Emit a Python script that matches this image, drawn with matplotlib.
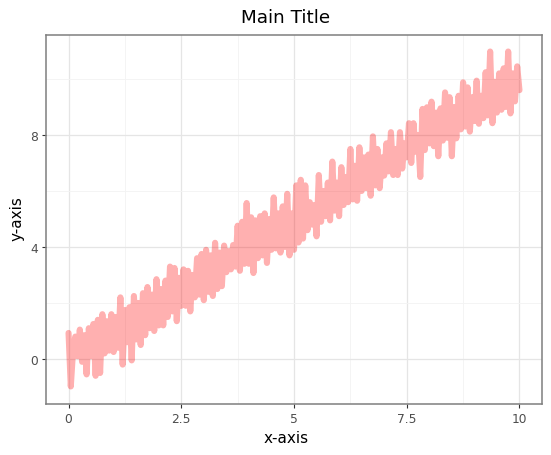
import numpy as np
import matplotlib
matplotlib.use('Agg')
import matplotlib.pyplot as plt

plt.rcParams['path.simplify'] = False

# values: the two swings of the noisy line
y_low = [0.93, 0.3, 0.1, -0.1, -0.55, 0.1, -0.6, -0.5, 0.2, 0.3,
         0.25, 0.4, -0.2, 0.6, -0.05, 0.7, 0.5, 0.85, 1.1, 1.0,
         1.2, 1.2, 1.5, 1.7, 1.35, 1.9, 1.9, 1.7, 2.2, 2.3,
         2.1, 2.4, 2.25, 2.5, 2.6, 3.1, 3.2, 3.3, 3.15, 3.4,
         3.4, 3.07, 3.6, 3.7, 3.43, 3.9, 3.95, 3.8, 4.0, 3.7,
         3.9, 4.16, 4.3, 4.6, 4.8, 4.38, 4.9, 5.1, 4.95, 5.3,
         5.1, 5.5, 5.6, 5.7, 5.65, 6.0, 6.1, 5.83, 6.2, 6.1,
         6.55, 6.7, 6.57, 6.57, 6.8, 7.2, 7.0, 7.4, 6.5, 7.46,
         7.7, 7.6, 7.24, 7.8, 7.9, 7.24, 7.88, 8.2, 8.3, 8.12,
         8.5, 8.4, 8.6, 8.7, 8.42, 8.8, 8.9, 9.0, 8.77, 9.2, 9.6]
y_high = [-0.98, 0.8, 1.05, 0.85, 1.1, 1.25, 1.4, 1.6, 1.35, 1.6,
          1.5, 2.2, 1.75, 1.85, 2.25, 2.0, 2.35, 2.57, 2.3, 2.85,
          2.5, 2.8, 3.3, 3.25, 2.9, 3.2, 3.15, 3.0, 3.6, 3.75,
          3.9, 3.7, 4.15, 3.8, 4.05, 3.85, 4.07, 4.76, 4.9, 5.57,
          5.06, 4.95, 5.1, 5.2, 5.0, 5.77, 5.2, 5.45, 5.9, 5.2,
          6.2, 6.4, 6.2, 5.6, 5.5, 6.57, 6.0, 6.3, 7.05, 6.3,
          6.85, 6.5, 7.5, 6.9, 7.56, 7.2, 7.3, 7.95, 7.5, 7.2,
          7.7, 8.1, 7.5, 8.1, 7.7, 8.42, 8.42, 8.0, 8.93, 8.99,
          9.19, 8.8, 8.95, 9.52, 9.35, 9.0, 9.4, 9.88, 9.7, 9.35,
          9.94, 9.4, 10.24, 10.98, 9.9, 10.2, 10.38, 10.98, 10.2, 10.45]

x_ticks = [0, 2.5, 5, 7.5, 10]
x_labels = ['0', '2.5', '5', '7.5', '10']
x_minor = [1.25, 3.75, 6.25, 8.75]
y_ticks = [0, 4, 8]
y_labels = ['0', '4', '8']
y_minor = [2, 6, 10]

# line swings back and forth along x
y_values = []
for i in range(len(y_high)):
    y_values += [y_low[i], y_high[i]]
y_values.append(y_low[-1])
x_values = np.linspace(0, 10, len(y_values))

fig = plt.figure(figsize=(5.51, 4.56), dpi=100)
ax = fig.add_axes([46 / 551, 1 - 405 / 456, 496 / 551, 369 / 456])

ax.plot(x_values, y_values, color='red', alpha=0.31, linewidth=4.4,
        solid_capstyle='round', solid_joinstyle='round', zorder=3)

ax.set_xlim(-0.5, 10.5)
ax.set_ylim(-1.607, 11.57)
ax.set_xticks(x_ticks)
ax.set_xticklabels(x_labels)
ax.set_yticks(y_ticks)
ax.set_yticklabels(y_labels)
ax.set_xticks(x_minor, minor=True)
ax.set_yticks(y_minor, minor=True)

ax.grid(which='major', color='#E5E5E5', linewidth=0.9, zorder=1)
ax.grid(which='minor', color='#F3F3F3', linewidth=0.6, zorder=1)
ax.set_axisbelow(True)
ax.tick_params(which='major', length=3, width=0.8, color='#333333',
               labelcolor='#4D4D4D', labelsize=8.8, pad=3)
ax.tick_params(which='minor', length=0)
for spine in ax.spines.values():
    spine.set_color('#7F7F7F')
    spine.set_linewidth(1.1)

# title and axis labels sit centred on the figure, not on the panel
fig.text(285.5 / 551, 1 - 18 / 456, 'Main Title', fontsize=13.2, ha='center', va='center')
fig.text(286 / 551, 1 - 439 / 456, 'x-axis', fontsize=11, ha='center', va='center')
fig.text(17 / 551, 1 - 219 / 456, 'y-axis', fontsize=11, rotation=90, ha='center', va='center')

fig.savefig('out.png', dpi=100)
